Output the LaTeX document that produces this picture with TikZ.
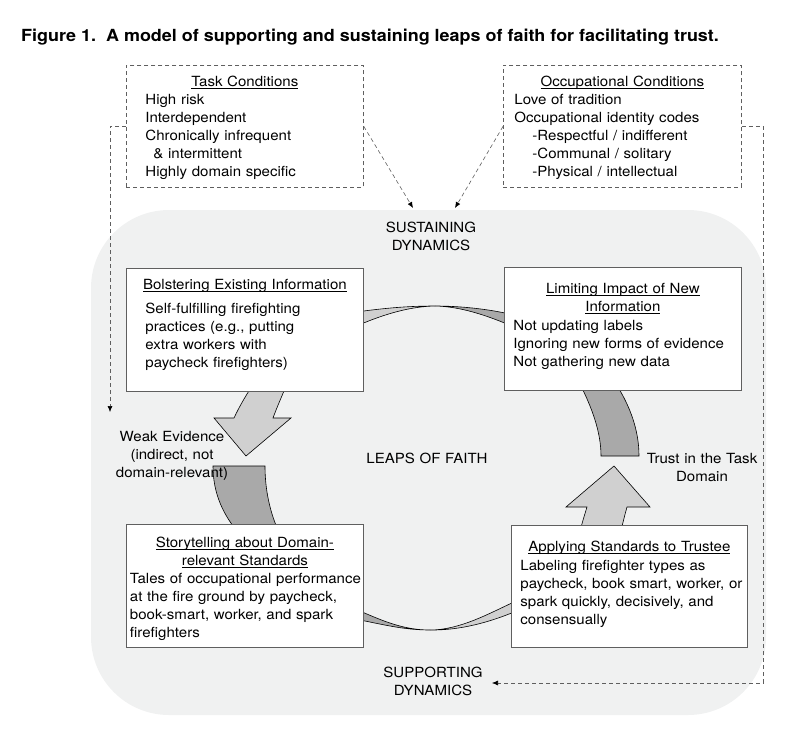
\documentclass[tikz,border=0pt]{standalone}
\usepackage{fontspec}
\setmainfont{TeX Gyre Heros}[FakeStretch=1.075]
\usetikzlibrary{arrows.meta}

\definecolor{panel}{RGB}{240,241,241}
\definecolor{frontgray}{RGB}{208,208,208}
\definecolor{backgray}{RGB}{169,169,169}
\definecolor{rulegray}{RGB}{95,95,95}

\newcommand\boxtitle[1]{\makebox[\linewidth]{\setbox0\hbox{#1}%
  \rlap{\rule[-2.2pt]{\wd0}{0.7pt}}\box0}}

\begin{document}
\begin{tikzpicture}[x=1pt, y=-1pt,
  every node/.style={font=\fontsize{14}{18}\selectfont, inner sep=0pt},
  infobox/.style={draw=rulegray, line width=0.8pt, fill=white,
    anchor=north west, align=left},
  condbox/.style={infobox, fill=none, dash pattern=on 4pt off 3pt},
  dyntext/.style={anchor=base, align=center, text width=#1},
  front/.style={fill=frontgray, draw=black, line width=0.6pt},
  back/.style={fill=backgray, draw=black, line width=0.6pt},
  link/.style={draw=rulegray, line width=0.6pt, dash pattern=on 4pt off 3pt},
  linkarrow/.style={link, -{Latex[length=6pt, width=5pt, color=black]}}]

  \useasboundingbox (0,0) rectangle (803,733);

  \node[anchor=base west, font=\fontsize{16.7}{20}\selectfont\bfseries]
    (title) at (21,42)
    {Figure 1.\ \ A model of supporting and sustaining leaps of faith for facilitating trust.};

  \fill[panel, rounded corners=78pt] (91,210) rectangle (766,715);

  % the cycle of leaps
  \draw[front] (252,386) .. controls (247,394) and (240,405) .. (234,418)
    -- (214,418) -- (246,456) -- (291,418) -- (273,418)
    .. controls (277,407) and (282,396) .. (286,386) -- cycle;
  \draw[back] (213,466) .. controls (213,492) and (222,512) .. (236,530)
    -- (278,530) .. controls (270,512) and (265,490) .. (265,466) -- cycle;
  \draw[back] (580,384) .. controls (592,408) and (601,432) .. (601,456)
    -- (639,456) .. controls (639,430) and (630,406) .. (616,384) -- cycle;
  \draw[front] (580,531) .. controls (583,520) .. (587,507)
    -- (566,507) -- (614,466) -- (650,507) -- (627,507)
    .. controls (624,518) .. (621,531) -- cycle;
  \draw[front] (360,311.5) .. controls (390,307.5) and (412,306) .. (435,306)
    .. controls (410,306.5) and (385,314) .. (360,324.5) -- cycle;
  \draw[back] (435,306) .. controls (460,306) and (487,309) .. (507,313.5)
    -- (507,324) .. controls (485,315) and (460,306.5) .. (435,306) -- cycle;
  \draw[back] (360,611) .. controls (385,622) and (405,630) .. (430,630)
    .. controls (405,630) and (385,625) .. (360,620) -- cycle;
  \draw[front] (430,630) .. controls (460,630) and (490,613) .. (514,602)
    -- (514,612) .. controls (490,622) and (460,630.5) .. (430,630) -- cycle;

  \node[condbox, inner xsep=19pt, text width=199pt, text height=21pt,
    text depth=101pt] (task) at (126,65)
    {\boxtitle{Task Conditions}\\
     High risk\\
     Interdependent\\
     Chronically infrequent\\
     \hspace*{8pt}\& intermittent\\
     Highly domain specific};
  \node[condbox, inner xsep=11pt, text width=216pt, text height=21pt,
    text depth=101pt] (occ) at (503,65)
    {\boxtitle{Occupational Conditions}\\
     Love of tradition\\
     Occupational identity codes\\
     \hspace*{18pt}-Respectful / indifferent\\
     \hspace*{18pt}-Communal / solitary\\
     \hspace*{18pt}-Physical / intellectual};

  \node[infobox, inner xsep=19pt, text width=199pt, text height=21pt,
    text depth=102pt] (bolster) at (126,268)
    {\boxtitle{Bolstering Existing Information}\\[6pt]
     Self-fulfilling firefighting\\
     practices (e.g., putting\\
     extra workers with\\
     paycheck firefighters)};
  \node[infobox, inner xsep=9pt, text width=219pt, text height=26pt,
    text depth=97pt] (limit) at (504,267)
    {\boxtitle{Limiting Impact of New}\\
     \boxtitle{Information}\\[1pt]
     Not updating labels\\
     \mbox{Ignoring new forms of evidence}\\
     Not gathering new data};
  \node[infobox, inner xsep=3.5pt, text width=230pt, text height=23pt,
    text depth=100pt] (story) at (126,524)
    {\boxtitle{Storytelling about Domain-}\\
     \boxtitle{relevant Standards}\\
     \mbox{Tales of occupational performance}\\
     \mbox{at the fire ground by paycheck,}\\
     \mbox{book-smart, worker, and spark}\\
     firefighters};
  \node[infobox, inner xsep=9pt, text width=218pt, text height=26pt,
    text depth=96pt] (apply) at (511,525)
    {\boxtitle{Applying Standards to Trustee}\\[1pt]
     Labeling firefighter types as\\
     \mbox{paycheck, book smart, worker, or}\\
     \mbox{spark quickly, decisively, and}\\
     consensually};

  \node[dyntext=120pt] (sustain) at (431,232) {SUSTAINING\\DYNAMICS};
  \node[dyntext=120pt] (support) at (433,677) {SUPPORTING\\DYNAMICS};
  \node[dyntext=130pt] (weak) at (172,441)
    {Weak Evidence\\(indirect, not\\domain-relevant)};
  \node[dyntext=130pt] (leaps) at (427,463) {LEAPS OF FAITH};
  \node[dyntext=115pt] (trust) at (702,463) {Trust in the Task\\Domain};

  \coordinate (weaktip) at (110,412);
  \coordinate (sustleft) at (413,208);
  \coordinate (sustright) at (455,208);
  \coordinate (rightcorner) at (763,683);
  \coordinate (supporttip) at (492,683);

  \draw[linkarrow] (task.west) -| (weaktip);
  \foreach \src/\dst in {task.east/sustleft, occ.west/sustright}
    \draw[linkarrow] (\src) -- (\dst);
  \draw[linkarrow] (occ.east) -| (rightcorner) -- (supporttip);
\end{tikzpicture}
\end{document}
